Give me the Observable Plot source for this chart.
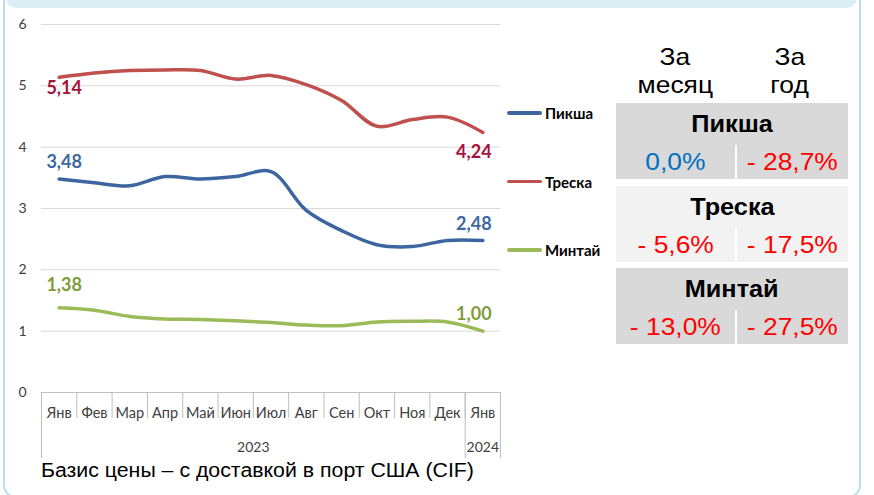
<!DOCTYPE html>
<html>
<head>
<meta charset="utf-8">
<script src="https://cdn.jsdelivr.net/npm/d3@7"></script>
<script src="https://cdn.jsdelivr.net/npm/@observablehq/plot@0.6"></script>
<style>
  body { margin: 0; background: #fff; }
  #wrap { position: relative; width: 874px; height: 495px; overflow: hidden; font-family: "Liberation Sans", Arial, sans-serif; }
  #frame { position: absolute; left: 3px; top: -30px; width: 858px; height: 528px; border: 2px solid #b9dfea; border-radius: 13px; box-sizing: border-box; }
  #band { position: absolute; left: 6px; top: -20px; width: 851px; height: 28px; background: #daeef4; border-radius: 10px; }
  #chart { position: absolute; left: 0; top: 0; }
  .leg { position: absolute; left: 507px; height: 20px; display: flex; align-items: center; font-family: Lato, sans-serif; font-weight: bold; font-size: 15px; color: #000; }
  .leg .sw { width: 35px; height: 3.5px; border-radius: 2px; margin-right: 3px; }
  .hdr { position: absolute; top: 42.7px; font-size: 24px; line-height: 28px; text-align: center; color: #000; }
  .sx { display: inline-block; transform: scaleX(1.1); }
  .box { position: absolute; left: 616px; width: 232px; height: 76px; }
  .box .name { height: 42px; line-height: 42px; text-align: center; font-weight: bold; font-size: 23px; color: #000; }
  .box .vals { display: flex; height: 34px; }
  .box .cell { height: 34px; line-height: 34px; text-align: center; font-size: 24px; }
  #caption { position: absolute; left: 41px; top: 459px; font-size: 20px; color: #000; white-space: nowrap; transform: scaleX(1.065); transform-origin: left center; }
</style>
</head>
<body>
<div id="wrap">
  <div id="frame"></div>
  <div id="band"></div>
  <div id="chart"></div>
  <div id="legend"></div>
  <div id="table"></div>
  <div id="caption"></div>
</div>
<script>
// ---- data ----
const months = ["Янв", "Фев", "Мар", "Апр", "Май", "Июн", "Июл", "Авг", "Сен", "Окт", "Ноя", "Дек", "Янв"];
const monthYears = ["2023", "2023", "2023", "2023", "2023", "2023", "2023", "2023", "2023", "2023", "2023", "2023", "2024"];
const seriesNames = ["Пикша", "Треска", "Минтай"];
const haddock = [3.48, 3.42, 3.37, 3.52, 3.48, 3.52, 3.60, 2.97, 2.64, 2.41, 2.38, 2.48, 2.48];
const cod     = [5.14, 5.21, 5.25, 5.26, 5.25, 5.11, 5.17, 5.02, 4.76, 4.34, 4.45, 4.49, 4.24];
const pollock = [1.38, 1.34, 1.24, 1.20, 1.19, 1.17, 1.14, 1.10, 1.09, 1.15, 1.16, 1.15, 1.00];
const yTicks = [0, 1, 2, 3, 4, 5, 6];
const monthChange = ["0,0%", "- 5,6%", "- 13,0%"];
const yearChange = ["- 28,7%", "- 17,5%", "- 27,5%"];
const tableHeaders = [["За", "месяц"], ["За", "год"]];
const caption = "Базис цены – с доставкой в порт США (CIF)";

// ---- build ----
const values = [haddock, cod, pollock];
const rows = seriesNames.flatMap((s, k) => values[k].map((v, i) => ({series: s, i, v})));
const lineColors = ["#3d66a0", "#c0504d", "#9bbb59"];
const labelColors = ["#3e68a3", "#a8123e", "#7f9c3a"];
const fmt = v => v.toFixed(2).replace(".", ",");

// year groups
const yearList = Array.from(new Set(monthYears));
const yearCenters = yearList.map(y => d3.mean(months.map((m, i) => i).filter(i => monthYears[i] === y)));
const yearBounds = [-0.5, ...months.map((m, i) => i).filter(i => i > 0 && monthYears[i] !== monthYears[i - 1]).map(i => i - 0.5), months.length - 0.5];

// label offsets [first dy, last dy]
const labelDy = [[-17, -16], [11, 20], [-23, -17]];
const labelMarks = [];
seriesNames.forEach((s, k) => {
  const sr = rows.filter(r => r.series === s);
  const ends = [sr[0], sr[sr.length - 1]];
  ends.forEach((d, e) => {
    labelMarks.push(Plot.text([d], {
      x: "i", y: "v", text: r => fmt(r.v),
      dx: e === 0 ? 5 : -9, dy: labelDy[k][e],
      fill: labelColors[k], fontWeight: "bold", fontSize: 18, fontFamily: "Lato"
    }));
  });
});

const chart = Plot.plot({
  width: 520, height: 495,
  marginLeft: 41, marginRight: 20, marginTop: 24, marginBottom: 103,
  x: {domain: [-0.5, months.length - 0.5], axis: null},
  y: {domain: [0, 6], axis: null},
  color: {domain: seriesNames, range: lineColors},
  style: {fontFamily: "Lato, sans-serif", fontSize: "13px", color: "#404040", background: "transparent", overflow: "visible"},
  marks: [
    Plot.ruleY(yTicks.filter(t => t > 0), {stroke: "#d9d9d9", strokeWidth: 1}),
    Plot.ruleY([0], {stroke: "#bfbfbf", strokeWidth: 1}),
    Plot.axisY({ticks: yTicks, tickSize: 0, tickPadding: 15, fontSize: 14, label: null, tickFormat: d => String(d)}),
    Plot.axisX({ticks: d3.range(months.length + 1).map(i => i - 0.5), tickSize: 26, tickFormat: () => "", stroke: "#bfbfbf", label: null}),
    Plot.axisX({ticks: yearBounds, tickSize: 66, tickFormat: () => "", stroke: "#bfbfbf", label: null}),
    Plot.axisX({ticks: d3.range(months.length), tickSize: 0, tickPadding: 15, fontSize: 14.5, tickFormat: i => months[i], label: null}),
    Plot.axisX({ticks: yearCenters, tickSize: 0, tickPadding: 50, fontSize: 14, tickFormat: (c, j) => yearList[j], label: null}),
    Plot.line(rows, {x: "i", y: "v", z: "series", stroke: "series", strokeWidth: 3.5, curve: "catmull-rom"}),
    ...labelMarks
  ]
});
document.getElementById("chart").appendChild(chart);

// legend
const legend = document.getElementById("legend");
seriesNames.forEach((s, k) => {
  const d = document.createElement("div");
  d.className = "leg";
  d.style.top = (103 + k * 68.5) + "px";
  d.innerHTML = `<span class="sw" style="background:${lineColors[k]}"></span><span>${s}</span>`;
  legend.appendChild(d);
});

// table
const table = document.getElementById("table");
const hdrCenters = [675, 790];
tableHeaders.forEach((h, j) => {
  const d = document.createElement("div");
  d.className = "hdr";
  d.style.left = (hdrCenters[j] - 60) + "px";
  d.style.width = "120px";
  d.innerHTML = h.map(t => `<span class="sx">${t}</span>`).join("<br>");
  table.appendChild(d);
});
const boxFills = ["#d9d9d9", "#f2f2f2", "#d9d9d9"];
seriesNames.forEach((s, k) => {
  const b = document.createElement("div");
  b.className = "box";
  b.style.top = (103 + k * 82.5) + "px";
  b.style.background = boxFills[k];
  const mColor = monthChange[k].startsWith("-") ? "#ff0000" : "#0070c0";
  const yColor = yearChange[k].startsWith("-") ? "#ff0000" : "#0070c0";
  b.innerHTML = `<div class="name"><span class="sx">${s}</span></div>
    <div class="vals"><div class="cell" style="width:119px;color:${mColor}"><span class="sx">${monthChange[k]}</span></div>
    <div style="width:2px;background:#fff"></div>
    <div class="cell" style="width:111px;color:${yColor}"><span class="sx">${yearChange[k]}</span></div></div>`;
  table.appendChild(b);
});

document.getElementById("caption").textContent = caption;
</script>
</body>
</html>
